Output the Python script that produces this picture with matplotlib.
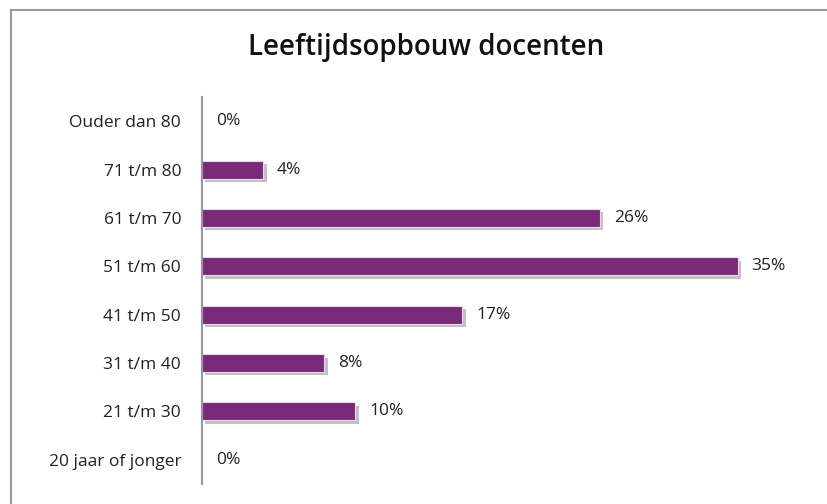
import matplotlib.pyplot as plt
import matplotlib.patheffects as pe
from matplotlib.lines import Line2D

# age groups, bottom to top
categories = ["20 jaar of jonger", "21 t/m 30", "31 t/m 40", "41 t/m 50",
              "51 t/m 60", "61 t/m 70", "71 t/m 80", "Ouder dan 80"]
percentages = [0, 10, 8, 17, 35, 26, 4, 0]
value_labels = ["0%", "10%", "8%", "17%", "35%", "26%", "4%", "0%"]

plt.rcParams['font.family'] = ['Open Sans', 'DejaVu Sans']

fig = plt.figure(figsize=(8.27, 5.04), dpi=100)
ax = fig.add_axes([202 / 827, 20 / 504, 551 / 827, 387 / 504])

ypos = range(len(categories))
bars = ax.barh(ypos, percentages, height=0.37, color='#7b2a7a',
               edgecolor='#e8d8e8', linewidth=0.8)
for b in bars:
    b.set_path_effects([pe.SimplePatchShadow(offset=(2.5, -2.5), shadow_rgbFace='#999999', alpha=0.6),
                        pe.Normal()])

for y, v, lab in zip(ypos, percentages, value_labels):
    ax.annotate(lab, (v, y), xytext=(10, 0), textcoords='offset points',
                va='center', ha='left', fontsize=12.5, color='#222222', annotation_clip=False)

ax.set_xlim(0, 36)
ax.set_ylim(-0.5, len(categories) - 0.5)
ax.set_yticks(list(ypos))
ax.set_yticklabels(categories, fontsize=12.5, color='#222222')
ax.tick_params(axis='y', length=0, pad=15)
ax.set_xticks([])
for s in ['top', 'right', 'bottom']:
    ax.spines[s].set_visible(False)
ax.spines['left'].set_color('#999999')
ax.spines['left'].set_linewidth(1.5)

fig.text(426 / 827, 1 - 47 / 504, "Leeftijdsopbouw docenten", ha='center', va='center',
         fontsize=20, fontweight='semibold', color='#111111')

# chart frame (top and left edges visible)
fig.add_artist(Line2D([11 / 827, 1], [1 - 10 / 504, 1 - 10 / 504], color='#999999', lw=1.5))
fig.add_artist(Line2D([11 / 827, 11 / 827], [0, 1 - 10 / 504], color='#999999', lw=1.5))

fig.savefig("out.png", dpi=100)
